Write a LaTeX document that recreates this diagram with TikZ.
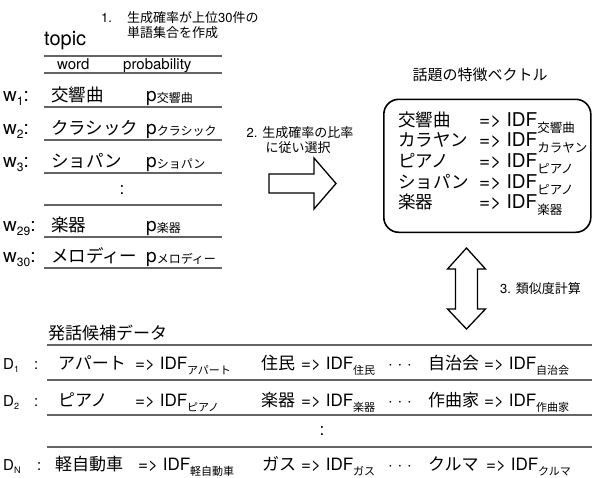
\documentclass[tikz,border=0pt]{standalone}
\usepackage{fontspec}
\setmainfont{TeX Gyre Heros}
\newfontfamily\jp{Noto Sans CJK JP}
\newcommand\J[1]{{\jp #1}}
\newcommand\sbj[1]{\raisebox{-5pt}{\fontsize{11}{11}\selectfont\jp #1}}
\newcommand\sbb[1]{\raisebox{-6pt}{\fontsize{12.5}{12.5}\selectfont\jp #1}}
\newcommand\sbp[1]{\raisebox{-1.5pt}{\fontsize{12}{12}\selectfont\jp #1}}
\newcommand\sbn[1]{\raisebox{-4pt}{\fontsize{12}{12}\selectfont #1}}
\newcommand\sbd[1]{\raisebox{-3pt}{\fontsize{9}{9}\selectfont #1}}
\definecolor{ruleg}{RGB}{100,100,100}
\tikzset{
  txt/.style={inner sep=0pt, anchor=base west},
  ctxt/.style={inner sep=0pt, anchor=base},
  fj/.style={font=\fontsize{17}{20}\selectfont},
  fjb/.style={font=\fontsize{17.5}{20}\selectfont},
  fib/.style={font=\fontsize{19}{22}\selectfont},
  fw/.style={font=\fontsize{19}{22}\selectfont},
  fs/.style={font=\fontsize{13}{15}\selectfont},
  rulel/.style={draw=ruleg, line width=1.7pt},
  blockarrow/.style={draw=black, fill=white, line width=1.3pt, line join=miter},
  fvbox/.style={draw=black, line width=1.6pt, rounded corners=15pt, inner sep=0pt,
    minimum width=207pt, minimum height=133pt, anchor=north west}
}
% left table row: name, baseline, label sub, word, p sub
\newcommand\wrow[5]{%
  \node[txt,fw] (#1l) at (3,#2) {w\sbn{#3}:};
  \node[txt,fjb] (#1w) at (51,#2) {\J{#4}};
  \node[txt,fw] (#1p) at (146,#2) {p\sbp{#5}};
}
% feature box row: name, baseline, word, sub
\newcommand\brow[4]{%
  \node[txt,fjb] (#1w) at (398,#2) {\J{#3}};
  \node[txt,fib] (#1i) at (479,#2) {=> IDF\sbb{#4}};
}
% bottom entry: name, baseline, x word, word, x arrow, sub
\newcommand\dent[6]{%
  \node[txt,fj] (#1w) at (#3,#2) {\J{#4}};
  \node[txt,fj] (#1i) at (#5,#2) {=> IDF\sbj{#6}};
}
\begin{document}
\begin{tikzpicture}[x=1pt,y=-1pt]
\useasboundingbox (0,0) rectangle (592,477);

% ---- step 1 label
\node[txt,fs] (n1) at (101,22) {1.};
\node[txt,fs] (n1a) at (127,22) {\J{生成確率が上位}30\J{件の}};
\node[txt,fs] (n1b) at (127,37) {\J{単語集合を作成}};

% ---- topic table
\node[txt,font=\fontsize{20}{22}\selectfont] (topic) at (44,45) {topic};
\draw[rulel] (44,56) -- (222,56);
\node[txt,font=\fontsize{15}{17}\selectfont] (hword) at (57,69.5) {word};
\node[txt,font=\fontsize{15}{17}\selectfont] (hprob) at (123,69.5) {probability};
\draw[rulel] (44,73) -- (222,73);
\wrow{ra}{101}{1}{交響曲}{交響曲}
\draw[rulel] (44,107) -- (222,107);
\wrow{rb}{134}{2}{クラシック}{クラシック}
\draw[rulel] (44,140) -- (222,140);
\wrow{rc}{167}{3}{ショパン}{ショパン}
\draw[rulel] (44,173) -- (222,173);
\node[fj,inner sep=0pt] (rdots) at (122,190) {:};
\draw[rulel] (44,205) -- (222,205);
\wrow{rd}{231}{29}{楽器}{楽器}
\draw[rulel] (44,237) -- (222,237);
\wrow{re}{262}{30}{メロディー}{メロディー}
\draw[rulel] (44,268) -- (222,268);

% ---- step 2
\node[ctxt,fs] (n2a) at (300,137.5) {2. \J{生成確率の比率}};
\node[ctxt,fs] (n2b) at (298,152) {\J{に従い選択}};
\draw[blockarrow] (269,174) -- (314,174) -- (314,158) -- (336,183.5)
  -- (314,209) -- (314,193) -- (269,193) -- cycle;

% ---- feature vector
\node[ctxt,font=\fontsize{15}{17}\selectfont] (fvt) at (480,80.5) {\J{話題の特徴ベクトル}};
\node[fvbox] (fv) at (383,98.5) {};
\brow{ba}{126}{交響曲}{交響曲}
\brow{bb}{146.7}{カラヤン}{カラヤン}
\brow{bc}{167.4}{ピアノ}{ピアノ}
\brow{bd}{188.1}{ショパン}{ピアノ}
\brow{be}{208.8}{楽器}{楽器}

% ---- step 3
\draw[blockarrow] (466.5,248) -- (485.5,269) -- (477.5,269) -- (477.5,309)
  -- (485.5,309) -- (466.5,329) -- (447.5,309) -- (455.5,309)
  -- (455.5,269) -- (447.5,269) -- cycle;
\node[txt,fs] (n3) at (500,293) {3. \J{類似度計算}};

% ---- candidate data
\node[txt,fj] (cand) at (48,339) {\J{発話候補データ}};
\draw[rulel] (47,345) -- (592,345);
\node[txt,font=\fontsize{15}{17}\selectfont] (d1) at (3,369) {\rlap{D\sbd{1}}\hspace{31pt}:};
\dent{da}{369}{58}{アパート}{135}{アパート}
\dent{db}{369}{261}{住民}{301}{住民}
\node[txt,fj] (dd1) at (388,369) {· · ·};
\dent{dc}{369}{428}{自治会}{484}{自治会}
\draw[rulel] (47,380) -- (592,380);
\node[txt,font=\fontsize{15}{17}\selectfont] (d2) at (3,406) {\rlap{D\sbd{2}}\hspace{31pt}:};
\dent{ea}{406}{58}{ピアノ}{135}{ピアノ}
\dent{eb}{406}{261}{楽器}{301}{楽器}
\node[txt,fj] (dd2) at (388,406) {· · ·};
\dent{ec}{406}{428}{作曲家}{484}{作曲家}
\draw[rulel] (47,415) -- (592,415);
\node[fj,inner sep=0pt] (ddots) at (322,431) {:};
\draw[rulel] (47,447) -- (592,447);
\node[txt,font=\fontsize{15}{17}\selectfont] (dn) at (3,470) {\rlap{D\sbd{N}}\hspace{34pt}:};
\dent{fa}{470}{55}{軽自動車}{138}{軽自動車}
\dent{fb}{470}{262}{ガス}{301}{ガス}
\node[txt,fj] (dd3) at (388,470) {· · ·};
\dent{fc}{470}{428}{クルマ}{486}{クルマ}
\end{tikzpicture}
\end{document}
